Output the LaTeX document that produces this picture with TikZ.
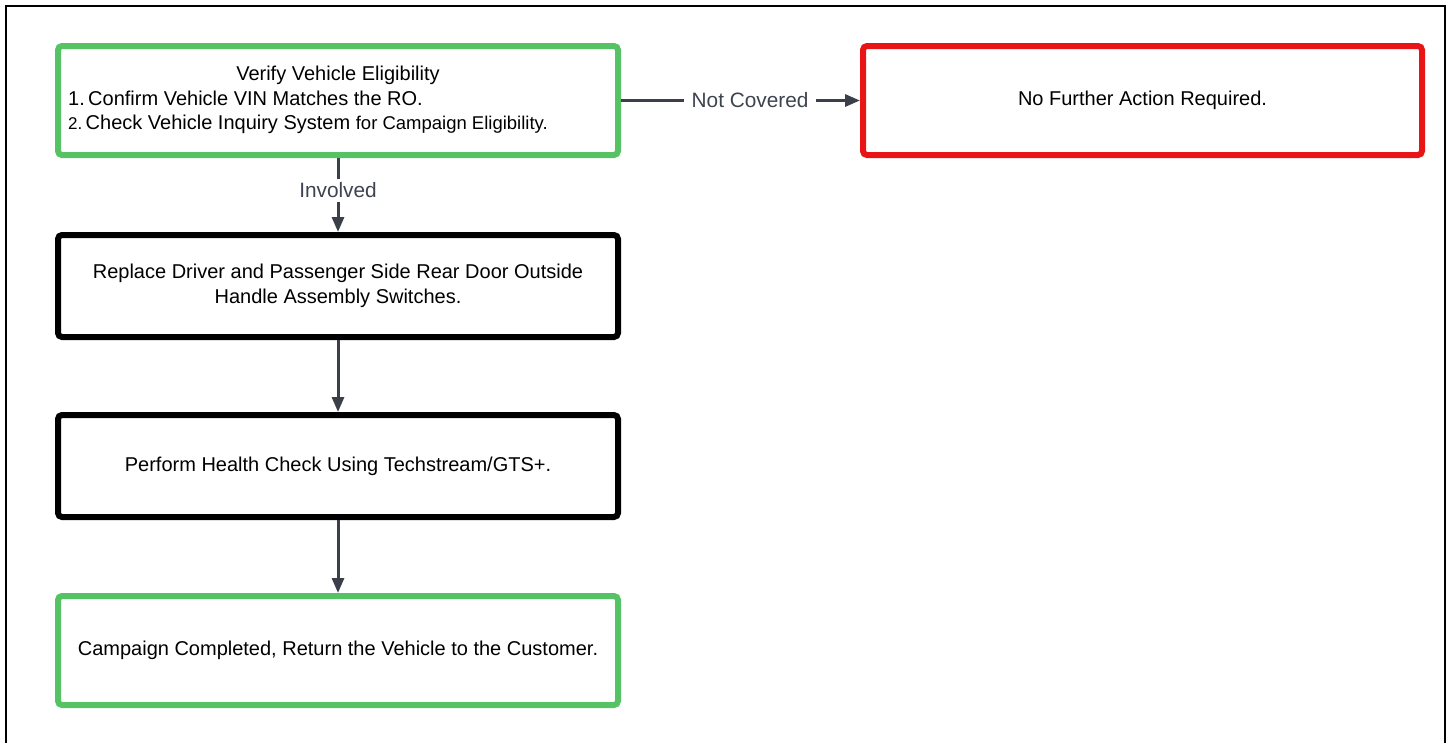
\documentclass[tikz,border=0pt]{standalone}
\usepackage{fontspec}
\setmainfont{Liberation Sans}
\usetikzlibrary{arrows.meta}
\definecolor{okgreen}{RGB}{85,195,100}
\definecolor{stopred}{RGB}{232,20,22}
\definecolor{conn}{RGB}{58,63,74}
\definecolor{lbl}{RGB}{61,68,80}
\begin{document}
\begin{tikzpicture}[x=1pt,y=-1pt,
  box/.style={draw, line width=6pt, rounded corners=4pt, minimum width=560pt, align=center,
    font=\fontsize{20}{25}\selectfont, inner sep=0pt},
  greenbox/.style={box, draw=okgreen, minimum height=109pt},
  redbox/.style={box, draw=stopred, minimum height=109pt, minimum width=559pt},
  blackbox/.style={box, draw=black, minimum height=102pt},
  conn/.style={draw=conn, line width=3pt, -{Triangle[length=15pt,width=12pt]}},
  lbl/.style={fill=white, text=lbl, font=\fontsize{20.8}{22}\selectfont, inner xsep=8pt, inner ysep=4pt},
  txt/.style={font=\fontsize{20}{22}\selectfont, inner sep=0pt}
]
\useasboundingbox (0,0) rectangle (1451,742);
\draw[line width=2.2pt] (6,760) -- (6,6) -- (1445,6) -- (1445,760);

\node[greenbox] (verify) at (338,100.5) {};
\node[txt, anchor=base] (vt) at (338,80) {Verify Vehicle Eligibility};
\node[txt, anchor=base west] (v1) at (68,105) {1.\,Confirm Vehicle VIN Matches the RO.};
\node[txt, anchor=base west] (v2) at (68,129) {{\fontsize{17}{20}\selectfont 2.}\,Check Vehicle Inquiry System {\fontsize{18.5}{20}\selectfont for Campaign Eligibility.}};

\node[redbox] (nofurther) at (1142.5,100.5) {No Further Action Required.};
\node[blackbox] (replace) at (338,286) {Replace Driver and Passenger Side Rear Door Outside\\Handle Assembly Switches.};
\node[blackbox] (health) at (338,466) {Perform Health Check Using Techstream/GTS+.};
\node[greenbox] (done) at (338,650.5) {Campaign Completed, Return the Vehicle to the Customer.};

\draw[conn] (verify.south) -- node[lbl, pos=0.44] {Involved} (replace.north);
\draw[conn] (verify.east) -- node[lbl, pos=0.54] {Not Covered} (nofurther.west);
\draw[conn] (replace.south) -- (health.north);
\draw[conn] (health.south) -- (done.north);
\end{tikzpicture}
\end{document}
